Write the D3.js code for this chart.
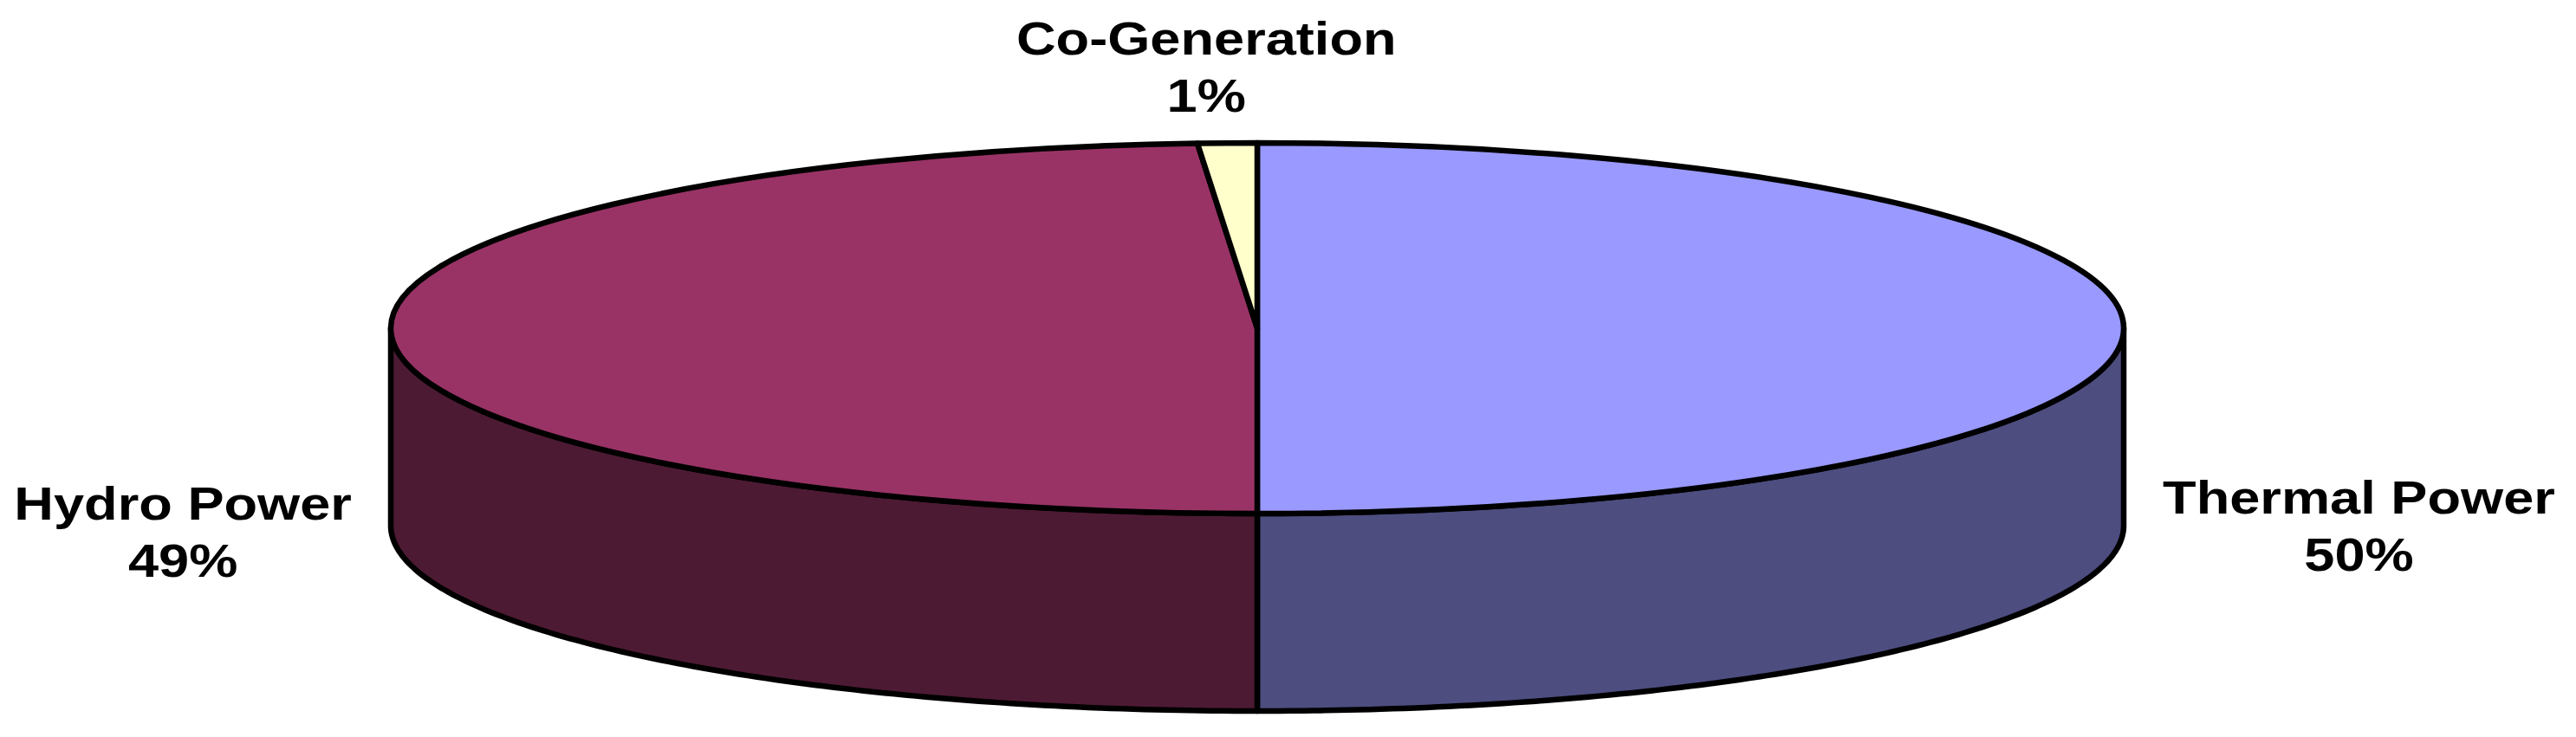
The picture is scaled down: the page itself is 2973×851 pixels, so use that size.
<!DOCTYPE html>
<html>
<head>
<meta charset="utf-8">
<script src="https://cdn.jsdelivr.net/npm/d3@7"></script>
<style>
  html, body { margin: 0; padding: 0; background: #fff; }
  svg { display: block; }
  .lbl { font-family: "Liberation Sans", Arial, sans-serif; font-weight: bold; font-size: 54px; fill: #000; }
</style>
</head>
<body>
<div id="chart"></div>
<script>
// data
const categories = ["Thermal Power", "Hydro Power", "Co-Generation"];
const values = [50, 48.9, 1.1];
const topColors = ["#9999FF", "#993366", "#FFFFCC"];
const sideColors = ["#4D4D80", "#4D1A33", "#80806A"];

const W = 2973, H = 851;
const cx = 1451, cy = 379, rx = 1000, ry = 214, depth = 228;
const stretch = 1.17;   // labels in the picture are drawn wide
const lw = 6.5;

const svg = d3.select("#chart").append("svg")
  .attr("width", W)
  .attr("height", H);

const rows = categories.map((c, i) => ({ name: c, value: values[i], i: i }));
const total = d3.sum(values);

const pie = d3.pie()
  .sort(null)
  .value(d => d.value)
  .startAngle(0)
  .endAngle(Math.PI * 2);
const slices = pie(rows);

function proj(a, dy) {
  return [cx + rx * Math.sin(a), cy - ry * Math.cos(a) + (dy || 0)];
}

// side walls, only the front half shows
const line = d3.line();
const sides = svg.append("g");
slices.forEach(d => {
  const s0 = Math.max(d.startAngle, Math.PI / 2);
  const s1 = Math.min(d.endAngle, Math.PI * 1.5);
  if (s0 >= s1) return;
  const steps = d3.range(0, 121).map(k => s0 + (s1 - s0) * k / 120);
  const pts = steps.map(a => proj(a, 0))
    .concat(steps.slice().reverse().map(a => proj(a, depth)));
  sides.append("path")
    .attr("d", line(pts) + "Z")
    .attr("fill", sideColors[d.data.i])
    .attr("stroke", "#000")
    .attr("stroke-width", lw)
    .attr("stroke-linejoin", "round");
});

// top face: circle arcs squashed into an ellipse
const arc = d3.arc().innerRadius(0).outerRadius(rx);
const topG = svg.append("g")
  .attr("transform", `translate(${cx},${cy}) scale(1,${ry / rx})`);
topG.selectAll("path")
  .data(slices)
  .join("path")
  .attr("d", arc)
  .attr("fill", d => topColors[d.data.i])
  .attr("stroke", "#000")
  .attr("stroke-width", lw)
  .attr("stroke-linejoin", "round")
  .attr("vector-effect", "non-scaling-stroke");

// labels
const lineGap = 66;
slices.forEach(d => {
  const mid = (d.startAngle + d.endAngle) / 2;
  const s = Math.sin(mid), c = Math.cos(mid);
  const lines = [d.data.name, Math.round(d.data.value / total * 100) + "%"];
  const g = svg.append("g");
  const t = g.append("text").attr("class", "lbl").attr("text-anchor", "middle");
  lines.forEach((txt, k) => {
    t.append("tspan").attr("x", 0).attr("y", k * lineGap).text(txt);
  });
  const w = t.node().getBBox().width * stretch;
  let x, y;
  if (Math.abs(s) > 0.7) {
    x = cx + Math.sign(s) * (rx + 45 + w / 2);
    y = cy - ry * c + 214;
  } else {
    x = cx + rx * 1.7 * s;
    y = cy - ry - 36 - lineGap;
  }
  g.attr("transform", `translate(${x},${y}) scale(${stretch},1)`);
});
</script>
</body>
</html>
